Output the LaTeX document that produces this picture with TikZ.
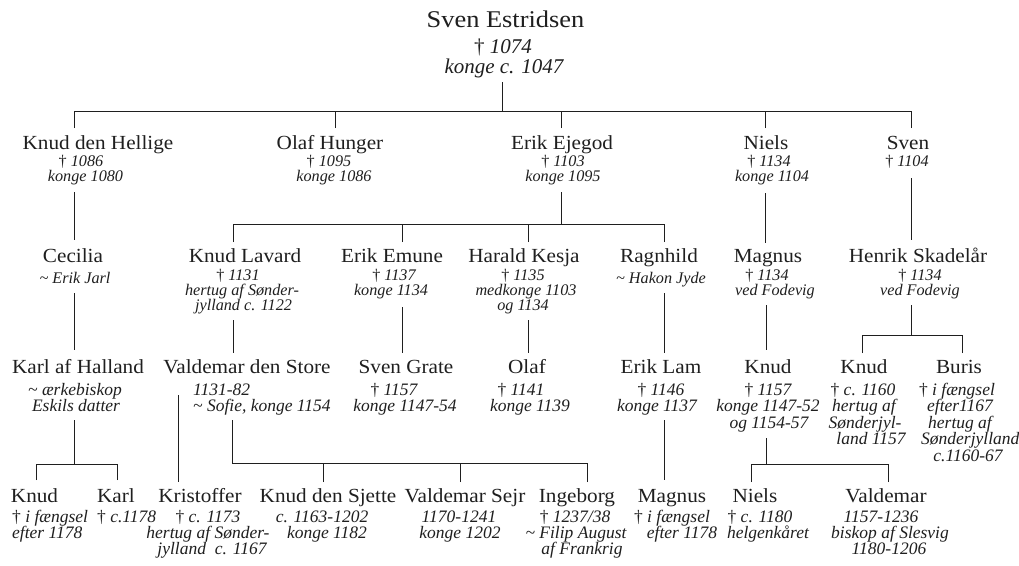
\documentclass[tikz,border=0pt]{standalone}
\usepackage{fontspec}
\setmainfont{Liberation Serif}
\newfontfamily\namefam[FakeStretch=1.06]{Liberation Serif}
\newfontfamily\topfam[FakeStretch=1.1]{Liberation Serif}
\newcommand\nmfont{\namefam\fontsize{20}{20}\selectfont}
\newcommand\tpfont{\topfam\fontsize{24}{24}\selectfont}
\newcommand\infont{\itshape\fontsize{17.5}{17.5}\selectfont}
\newcommand\insfont{\itshape\fontsize{16.2}{16.2}\selectfont}
\newcommand\tinfont{\itshape\fontsize{21}{21}\selectfont}
\newcommand\mydag{{\upshape †}}
\newcommand\til{\textasciitilde}
\definecolor{ink}{gray}{0.12}
\tikzset{
  nm/.style={font=\nmfont, inner sep=0pt, anchor=base, text=ink},
  tp/.style={font=\tpfont, inner sep=0pt, anchor=base, text=ink},
  inf/.style={font=\infont, inner sep=0pt, anchor=base, text=ink},
  infs/.style={font=\insfont, inner sep=0pt, anchor=base, text=ink},
  infl/.style={inf, anchor=base west},
  tinf/.style={font=\tinfont, inner sep=0pt, anchor=base, text=ink},
  tree/.style={draw=ink, line width=0.9pt}
}
\begin{document}
\begin{tikzpicture}[x=1pt,y=-1pt]
\useasboundingbox[fill=white] (0,0) rectangle (1019,565);

% ---------- row 0
\node[tp] (sven0) at (505.5,27) {Sven Estridsen};
\node[tinf] (sven0a) at (503,53) {\mydag\ 1074};
\node[tinf] (sven0b) at (504,73) {konge c. 1047};

% ---------- row 1
\node[nm] (knudH) at (98,149) {Knud den Hellige};
\node[infs] (knudHa) at (81,166) {\mydag\ 1086};
\node[infs] (knudHb) at (85.5,181) {konge 1080};

\node[nm] (olafH) at (330,149) {Olaf Hunger};
\node[infs] (olafHa) at (329,166) {\mydag\ 1095};
\node[infs] (olafHb) at (334,181) {konge 1086};

\node[nm] (erikE) at (562,149) {Erik Ejegod};
\node[infs] (erikEa) at (563,166) {\mydag\ 1103};
\node[infs] (erikEb) at (563,181) {konge 1095};

\node[nm] (niels) at (766,149) {Niels};
\node[infs] (nielsa) at (769,166) {\mydag\ 1134};
\node[infs] (nielsb) at (772,181) {konge 1104};

\node[nm] (svenS) at (908,149) {Sven};
\node[infs] (svenSa) at (907,166) {\mydag\ 1104};

% ---------- row 2
\node[nm] (cecilia) at (73,262) {Cecilia};
\node[infs] (ceciliaa) at (75,283) {\til\ Erik Jarl};

\node[nm] (knudL) at (245,262) {Knud Lavard};
\node[infs] (knudLa) at (238,280) {\mydag\ 1131};
\node[infs] (knudLb) at (242,295) {hertug af Sønder-};
\node[infs] (knudLc) at (243.5,310) {jylland c. 1122};

\node[nm] (erikEm) at (392,262) {Erik Emune};
\node[infs] (erikEma) at (394,280) {\mydag\ 1137};
\node[infs] (erikEmb) at (391,295) {konge 1134};

\node[nm] (harald) at (524,262) {Harald Kesja};
\node[infs] (harala) at (523,280) {\mydag\ 1135};
\node[infs] (haralb) at (526,295) {medkonge 1103};
\node[infs] (haralc) at (523,310) {og 1134};

\node[nm] (ragn) at (659,262) {Ragnhild};
\node[infs] (ragna) at (661,283) {\til\ Hakon Jyde};

\node[nm] (magnus) at (768,262) {Magnus};
\node[infs] (magnusa) at (767,280) {\mydag\ 1134};
\node[infs] (magnusb) at (775,295) {ved Fodevig};

\node[nm] (henrik) at (918,262) {Henrik Skadelår};
\node[infs] (henrika) at (920,280) {\mydag\ 1134};
\node[infs] (henrikb) at (920,295) {ved Fodevig};

% ---------- row 3
\node[nm] (karlH) at (78,373) {Karl af Halland};
\node[inf] (karlHa) at (75,395) {\til\ ærkebiskop};
\node[inf] (karlHb) at (76,411) {Eskils datter};

\node[nm] (valdS) at (247,373) {Valdemar den Store};
\node[infl] (valdSa) at (193,395) {1131-82};
\node[infl] (valdSb) at (193,411) {\til\ Sofie, konge 1154};

\node[nm] (svenG) at (406,373) {Sven Grate};
\node[inf] (svenGa) at (394,395) {\mydag\ 1157};
\node[inf] (svenGb) at (405,411) {konge 1147-54};

\node[nm] (olaf3) at (527,373) {Olaf};
\node[inf] (olaf3a) at (521,395) {\mydag\ 1141};
\node[inf] (olaf3b) at (530,411) {konge 1139};

\node[nm] (erikL) at (661,373) {Erik Lam};
\node[inf] (erikLa) at (661,395) {\mydag\ 1146};
\node[inf] (erikLb) at (657,411) {konge 1137};

\node[nm] (knud3) at (768,373) {Knud};
\node[inf] (knud3a) at (768,395) {\mydag\ 1157};
\node[inf] (knud3b) at (768,411) {konge 1147-52};
\node[inf] (knud3c) at (769,428) {og 1154-57};

\node[nm] (knudHs) at (864,373) {Knud};
\node[inf] (knudHsa) at (863,395) {\mydag\ c. 1160};
\node[inf] (knudHsb) at (864,411) {hertug af};
\node[inf] (knudHsc) at (865,428) {Sønderjyl-};
\node[inf] (knudHsd) at (871,444) {land 1157};

\node[nm] (buris) at (959,373) {Buris};
\node[inf] (burisa) at (957,395) {\mydag\ i fængsel};
\node[inf] (burisb) at (960,411) {efter1167};
\node[inf] (burisc) at (960,428) {hertug af};
\node[infl] (burisd) at (921,444) {Sønderjylland};
\node[inf] (burise) at (968,461) {c.1160-67};

% ---------- row 4
\node[nm] (knud4) at (34.5,502) {Knud};
\node[infl] (knud4a) at (12,522) {\mydag\ i fængsel};
\node[infl] (knud4b) at (12,538) {efter 1178};

\node[nm] (karl4) at (116,502) {Karl};
\node[infl] (karl4a) at (97,522) {\mydag\ c.1178};

\node[nm] (krist) at (200,502) {Kristoffer};
\node[inf] (krista) at (208,522) {\mydag\ c. 1173};
\node[inf] (kristb) at (208,538) {hertug af Sønder-};
\node[inf] (kristc) at (212,554) {jylland\ \ c. 1167};

\node[nm] (knud6) at (328,502) {Knud den Sjette};
\node[inf] (knud6a) at (322,522) {c. 1163-1202};
\node[inf] (knud6b) at (327,538) {konge 1182};

\node[nm] (valdSe) at (465,502) {Valdemar Sejr};
\node[inf] (valdSea) at (459,522) {1170-1241};
\node[inf] (valdSeb) at (460,538) {konge 1202};

\node[nm] (inge) at (577,502) {Ingeborg};
\node[inf] (ingea) at (575,522) {\mydag\ 1237/38};
\node[inf] (ingeb) at (576,538) {\til\ Filip August};
\node[inf] (ingec) at (582,554) {af Frankrig};

\node[nm] (magnus4) at (672,502) {Magnus};
\node[inf] (magnus4a) at (672,522) {\mydag\ i fængsel};
\node[inf] (magnus4b) at (682,538) {efter 1178};

\node[nm] (niels4) at (755,502) {Niels};
\node[inf] (niels4a) at (760,522) {\mydag\ c. 1180};
\node[inf] (niels4b) at (768,538) {helgenkåret};

\node[nm] (vald4) at (886,502) {Valdemar};
\node[inf] (vald4a) at (881,522) {1157-1236};
\node[inf] (vald4b) at (890,538) {biskop af Slesvig};
\node[inf] (vald4c) at (889,554) {1180-1206};

% ---------- connector coordinates
\coordinate (sven0-foot) at (502,82);
\coordinate (sven0-bar) at (502,111);
\coordinate (knudH-top) at (74,128);
\coordinate (olafH-top) at (335,128);
\coordinate (erikE-top) at (561,128);
\coordinate (niels-top) at (765,128);
\coordinate (svenS-top) at (911,128);

\coordinate (knudH-foot) at (74,192);
\coordinate (cecilia-top) at (74,240);
\coordinate (erikE-foot) at (561,192);
\coordinate (erikE-bar) at (561,224);
\coordinate (knudL-top) at (233,242);
\coordinate (erikEm-top) at (402,242);
\coordinate (harald-top) at (528,242);
\coordinate (ragn-top) at (664,242);
\coordinate (niels-foot) at (765,193);
\coordinate (magnus-top) at (765,243);
\coordinate (svenS-foot) at (911,178);
\coordinate (henrik-top) at (911,240);

\coordinate (cecilia-foot) at (74,293);
\coordinate (karlH-top) at (74,350);
\coordinate (knudL-foot) at (233,320);
\coordinate (valdS-top) at (233,353);
\coordinate (erikEm-foot) at (402,307);
\coordinate (svenG-top) at (402,353);
\coordinate (harald-foot) at (528,320);
\coordinate (olaf3-top) at (528,353);
\coordinate (ragn-foot) at (664,293);
\coordinate (erikL-top) at (664,353);
\coordinate (magnus-foot) at (766,305);
\coordinate (knud3-top) at (766,350);
\coordinate (henrik-foot) at (911,305);
\coordinate (henrik-bar) at (911,335);
\coordinate (knudHs-top) at (862,353);
\coordinate (buris-top) at (962,353);

\coordinate (karlH-foot) at (74,420);
\coordinate (karlH-bar) at (74,464);
\coordinate (knud4-top) at (36,480);
\coordinate (karl4-top) at (117,480);
\coordinate (valdS-side) at (178,395);
\coordinate (krist-top) at (178,482);
\coordinate (valdS-foot) at (232,420);
\coordinate (valdS-bar) at (232,463);
\coordinate (knud6-top) at (323,482);
\coordinate (valdSe-top) at (460,482);
\coordinate (inge-top) at (587,482);
\coordinate (erikL-foot) at (664,420);
\coordinate (magnus4-top) at (664,480);
\coordinate (knud3-foot) at (766,438);
\coordinate (knud3-bar) at (766,464);
\coordinate (niels4-top) at (751,482);
\coordinate (vald4-top) at (888,482);

% ---------- connectors
\draw[tree] (sven0-foot) -- (sven0-bar);
\foreach \c in {knudH,olafH,erikE,niels,svenS} \draw[tree] (\c-top) |- (sven0-bar);

\draw[tree] (knudH-foot) -- (cecilia-top);
\draw[tree] (erikE-foot) -- (erikE-bar);
\foreach \c in {knudL,erikEm,harald,ragn} \draw[tree] (\c-top) |- (erikE-bar);
\draw[tree] (niels-foot) -- (magnus-top);
\draw[tree] (svenS-foot) -- (henrik-top);

\draw[tree] (cecilia-foot) -- (karlH-top);
\draw[tree] (knudL-foot) -- (valdS-top);
\draw[tree] (erikEm-foot) -- (svenG-top);
\draw[tree] (harald-foot) -- (olaf3-top);
\draw[tree] (ragn-foot) -- (erikL-top);
\draw[tree] (magnus-foot) -- (knud3-top);
\draw[tree] (henrik-foot) -- (henrik-bar);
\foreach \c in {knudHs,buris} \draw[tree] (\c-top) |- (henrik-bar);

\draw[tree] (karlH-foot) -- (karlH-bar);
\foreach \c in {knud4,karl4} \draw[tree] (\c-top) |- (karlH-bar);
\draw[tree] (valdS-side) -- (krist-top);
\draw[tree] (valdS-foot) -- (valdS-bar);
\foreach \c in {knud6,valdSe,inge} \draw[tree] (\c-top) |- (valdS-bar);
\draw[tree] (erikL-foot) -- (magnus4-top);
\draw[tree] (knud3-foot) -- (knud3-bar);
\foreach \c in {niels4,vald4} \draw[tree] (\c-top) |- (knud3-bar);
\end{tikzpicture}
\end{document}
